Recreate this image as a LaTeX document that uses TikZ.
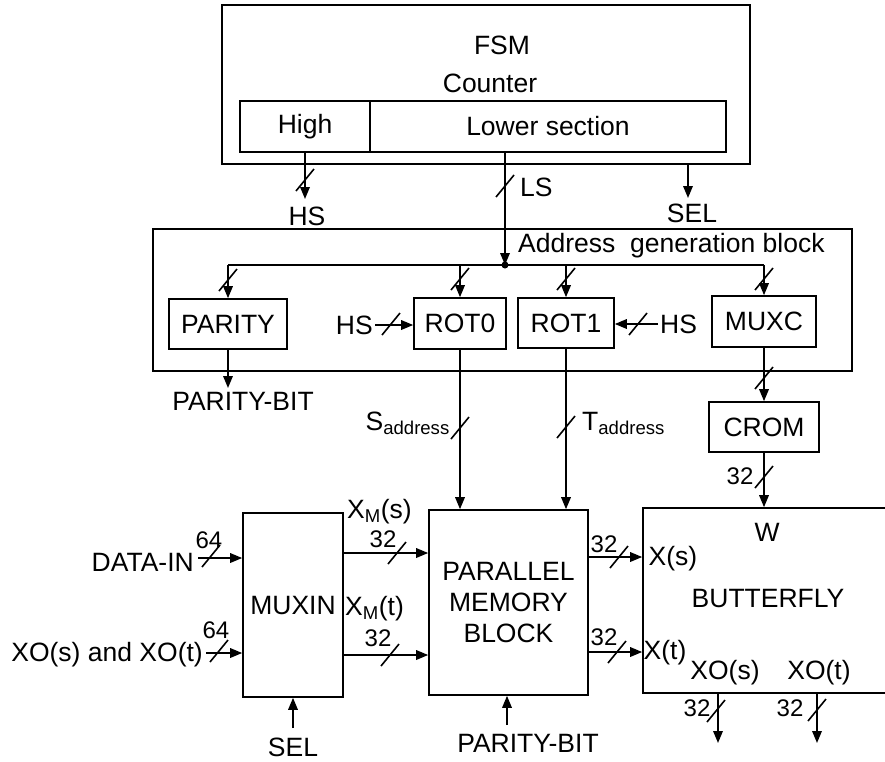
\documentclass[tikz,border=0pt]{standalone}
\usepackage{fontspec}
\setmainfont{Liberation Sans}
\usetikzlibrary{arrows.meta}
\begin{document}
\begin{tikzpicture}[x=1pt,y=-1pt,
  ln/.style={line width=1.7pt},
  arr/.style={ln,-{Triangle[length=12pt,width=9.5pt]}},
  blk/.style={draw,line width=1.6pt,inner sep=0pt,align=center},
  lbl/.style={inner sep=0pt,align=center},
  num/.style={inner sep=0pt,font=\fontsize{24}{26}\selectfont},
  busmark/.pic={\draw[line width=1.6pt] (-9,11) -- (9,-11);},
  font=\fontsize{26.5}{31}\selectfont]
\clip (0,0) rectangle (885,761);
\fill[white] (0,0) rectangle (885,761);

% ---------- FSM ----------
\node[blk,minimum width=528pt,minimum height=159pt] (fsm) at (486,84.5) {};
\node[lbl] (fsmt) at (502,45) {FSM};
\node[lbl] (cnt) at (490,83) {Counter};
\node[blk,minimum width=130pt,minimum height=51pt] (high) at (305,126.5) {High};
\node[blk,minimum width=356pt,minimum height=51pt] (lower) at (548,126.5) {Lower section};

\coordinate (hsE) at (305,199);
\node[lbl] (hs1) at (307,216) {HS};
\draw[arr] (high.south) -- (hsE);
\pic at (305,180) {busmark};

\coordinate (jn) at (505,265);
\draw[arr] (jn |- lower.south) -- (jn);
\pic at (505,186) {busmark};
\node[lbl,anchor=west] (ls) at (520,187) {LS};

\coordinate (selE) at (688,198);
\draw[arr] (selE |- fsm.south) -- (selE);
\node[lbl] (sel1) at (692,213) {SEL};

% ---------- Address generation block ----------
\node[blk,minimum width=699pt,minimum height=142pt] (addr) at (502.5,300) {};
\node[lbl,anchor=west] (addrt) at (518,246) {Address\ \ generation block};

\node[blk,minimum width=118pt,minimum height=50pt] (parity) at (228,324) {PARITY};
\node[blk,minimum width=92pt,minimum height=51pt] (rot0) at (460,323.5) {ROT0};
\node[blk,minimum width=96pt,minimum height=50pt] (rot1) at (566,323) {ROT1};
\node[blk,minimum width=104pt,minimum height=51pt] (muxc) at (764,321.5) {MUXC};

\coordinate (bL) at (228,265);
\coordinate (bR) at (764,265);
\draw[ln] (bL) -- (bR);
\fill (jn) circle (3.5pt);
\draw[arr] (bL) -- (parity.north);
\draw[arr] (rot0.north |- jn) -- (rot0.north);
\draw[arr] (rot1.north |- jn) -- (rot1.north);
\draw[arr] (bR) -- (muxc.north);
\pic at (228,280) {busmark};
\pic at (460,279) {busmark};
\pic at (566,279) {busmark};
\pic at (764,279) {busmark};

\node[lbl,anchor=east] (hs2) at (373,325) {HS};
\draw[arr] ([xshift=2pt]hs2.east) -- (hs2.east -| rot0.west);
\pic at (391,324) {busmark};
\node[lbl,anchor=west] (hs3) at (660,324) {HS};
\draw[arr] ([xshift=-2pt]hs3.west) -- (hs3.west -| rot1.east);
\pic at (638,324) {busmark};

\node[lbl] (pb1) at (243,401) {PARITY-BIT};
\coordinate (pbE) at (228,388);
\draw[arr] (parity.south) -- (pbE);

% ---------- CROM ----------
\node[blk,minimum width=110pt,minimum height=50pt] (crom) at (764,427) {CROM};
\draw[arr] (muxc.south) -- (crom.north);
\pic at (764,378) {busmark};

% ---------- bottom blocks ----------
\node[blk,minimum width=100pt,minimum height=184pt] (muxin) at (293,605) {MUXIN};
\node[blk,minimum width=159pt,minimum height=185pt] (pmb) at (508.5,602.5) {PARALLEL\\MEMORY\\BLOCK};
\node[blk,minimum width=262pt,minimum height=185pt] (bfly) at (774,600.5) {};
\node[lbl] (w) at (767,532) {W};
\node[lbl] (bft) at (768,598) {BUTTERFLY};

% addresses
\draw[arr] (rot0.south) -- (rot0.south |- pmb.north);
\pic at (460,428) {busmark};
\node[lbl,anchor=base east] (sa) at (450,430) {S\textsubscript{address}};
\draw[arr] (rot1.south) -- (rot1.south |- pmb.north);
\pic at (566,427) {busmark};
\node[lbl,anchor=base west] (ta) at (582,430) {T\textsubscript{address}};

% CROM -> butterfly
\draw[arr] (crom.south) -- (crom.south |- bfly.north);
\pic at (764,477) {busmark};
\node[num] (n32w) at (740,476) {32};

% inputs to MUXIN
\node[lbl,anchor=east] (din) at (194,562) {DATA-IN};
\coordinate (dinS) at (198,558);
\draw[arr] (dinS) -- (dinS -| muxin.west);
\pic at (211,556) {busmark};
\node[num] (n64a) at (209,540) {64};

\node[lbl,anchor=east] (xoin) at (203,655) {XO(s) and XO(t)};
\coordinate (xoS) at (206,653);
\draw[arr] (xoS) -- (xoS -| muxin.west);
\pic at (219,651) {busmark};
\node[num] (n64b) at (216,630) {64};

% MUXIN -> PMB
\coordinate (r1) at (0,553);
\coordinate (r2) at (0,655);
\draw[arr] (muxin.east |- r1) -- (pmb.west |- r1);
\pic at (397,553) {busmark};
\node[num] (n32a) at (383,539) {32};
\node[lbl,anchor=base west] (xms) at (347,518) {X\textsubscript{M}(s)};
\draw[arr] (muxin.east |- r2) -- (pmb.west |- r2);
\pic at (390,655) {busmark};
\node[num] (n32b) at (378,638) {32};
\node[lbl,anchor=base west] (xmt) at (345,615) {X\textsubscript{M}(t)};

% PMB -> butterfly
\coordinate (r3) at (0,557);
\coordinate (r4) at (0,652);
\draw[arr] (pmb.east |- r3) -- (bfly.west |- r3);
\pic at (619,557) {busmark};
\node[num] (n32c) at (604,544) {32};
\node[lbl] (xs) at (673,559) {X(s)};
\draw[arr] (pmb.east |- r4) -- (bfly.west |- r4);
\pic at (617,652) {busmark};
\node[num] (n32d) at (604,637) {32};
\node[lbl] (xt) at (665,653) {X(t)};

% butterfly outputs
\node[lbl] (xos) at (725,673) {XO(s)};
\node[lbl] (xot) at (819,673) {XO(t)};
\coordinate (o1) at (718,743);
\coordinate (o2) at (817,743);
\draw[arr] (o1 |- bfly.south) -- (o1);
\draw[arr] (o2 |- bfly.south) -- (o2);
\pic at (716,711) {busmark};
\pic at (817,710) {busmark};
\node[num] (n32e) at (697,708) {32};
\node[num] (n32f) at (790,708) {32};

% bottom control inputs
\node[lbl] (pb2) at (528,743) {PARITY-BIT};
\coordinate (pbS) at (507,725);
\draw[arr] (pbS) -- (pbS |- pmb.south);
\node[lbl] (sel2) at (293,747) {SEL};
\coordinate (selS) at (293,728);
\draw[arr] (selS) -- (muxin.south);
\end{tikzpicture}
\end{document}
